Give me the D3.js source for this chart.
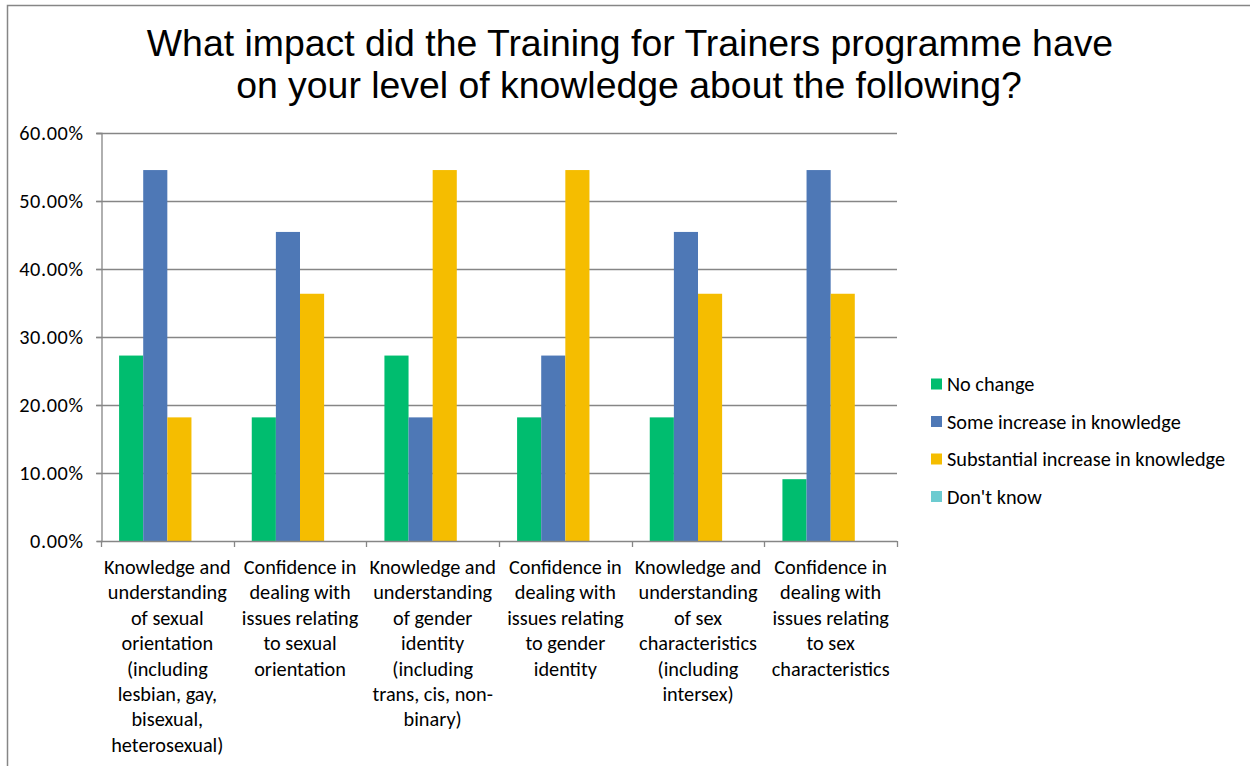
<!DOCTYPE html>
<html>
<head>
<meta charset="utf-8">
<script src="https://cdn.jsdelivr.net/npm/d3@7"></script>
<style>
    body { margin: 0; background: #fff; }
    svg { display: block; }
</style>
</head>
<body>
<svg width="1250" height="766"></svg>
<script>
const categories = [
    ['Knowledge and', 'understanding', 'of sexual', 'orientation', '(including', 'lesbian, gay,', 'bisexual,', 'heterosexual)'],
    ['Confidence in', 'dealing with', 'issues relating', 'to sexual', 'orientation'],
    ['Knowledge and', 'understanding', 'of gender', 'identity', '(including', 'trans, cis, non-', 'binary)'],
    ['Confidence in', 'dealing with', 'issues relating', 'to gender', 'identity'],
    ['Knowledge and', 'understanding', 'of sex', 'characteristics', '(including', 'intersex)'],
    ['Confidence in', 'dealing with', 'issues relating', 'to sex', 'characteristics']
]
const seriesNames = ['No change', 'Some increase in knowledge', 'Substantial increase in knowledge', "Don't know"]
const noChange = [27.27, 18.18, 27.27, 18.18, 18.18, 9.09]
const someIncrease = [54.55, 45.45, 18.18, 27.27, 45.45, 54.55]
const substantialIncrease = [18.18, 36.36, 54.55, 54.55, 36.36, 36.36]
const dontKnow = [0, 0, 0, 0, 0, 0]
const yTicks = [0, 10, 20, 30, 40, 50, 60]
const colors = ['#00bd6f', '#4e78b6', '#f5bd00', '#6ccbd0']

const allSeries = [noChange, someIncrease, substantialIncrease, dontKnow]

let svg = d3.select('svg')
let font = 'Carlito, Calibri, Lato, sans-serif'
let fontSize = 20.3

// chart frame
svg.append('rect')
    .attr('x', 7.5).attr('y', 5.5)
    .attr('width', 1260).attr('height', 780)
    .attr('fill', '#fff').attr('stroke', '#868686').attr('stroke-width', 1.5)

// title
let title = svg.append('text')
    .attr('text-anchor', 'middle')
    .attr('font-family', 'Liberation Sans, Arial, sans-serif')
    .attr('font-size', 37.4)
    .attr('fill', '#000')
title.append('tspan').attr('x', 630).attr('y', 56).text('What impact did the Training for Trainers programme have')
title.append('tspan').attr('x', 629).attr('y', 98).text('on your level of knowledge about the following?')

let x0 = d3.scaleBand()
    .domain(d3.range(categories.length))
    .range([101, 897])

let y = d3.scaleLinear()
    .domain([0, 60])
    .range([541, 133])

let barW = x0.bandwidth() / (4 + 1.5)
let x1 = d3.scaleBand()
    .domain(d3.range(allSeries.length))
    .range([barW * 0.75, barW * 4.75])

// gridlines
svg.append('g')
    .selectAll('line')
    .data(yTicks.slice(1))
    .enter().append('line')
    .attr('x1', 96).attr('x2', 897)
    .attr('y1', d => Math.round(y(d)) + 0.5)
    .attr('y2', d => Math.round(y(d)) + 0.5)
    .attr('stroke', '#868686').attr('stroke-width', 1.3)

// y axis
let yAxis = svg.append('g')
    .attr('transform', 'translate(101.5,0)')
    .call(d3.axisLeft(y).tickValues(yTicks).tickSize(5).tickPadding(13)
        .tickFormat(d => d.toFixed(2) + '%'))
yAxis.select('.domain').attr('stroke', '#868686').attr('stroke-width', 1.3)
yAxis.selectAll('.tick line').attr('stroke', '#868686').attr('stroke-width', 1.3)
yAxis.selectAll('.tick text')
    .attr('font-family', font).attr('font-size', fontSize).attr('fill', '#000')
    .attr('letter-spacing', 0.6)

// bars
let groups = svg.append('g')
    .selectAll('g')
    .data(categories)
    .enter().append('g')
    .attr('transform', (d, i) => 'translate(' + x0(i) + ',0)')

groups.selectAll('rect')
    .data((d, i) => allSeries.map((s, j) => ({ series: j, value: s[i] })))
    .enter().append('rect')
    .attr('x', d => x1(d.series))
    .attr('width', x1.bandwidth())
    .attr('y', d => y(d.value))
    .attr('height', d => y(0) - y(d.value))
    .attr('fill', d => colors[d.series])

// x axis
let xAxisLine = svg.append('g')
xAxisLine.append('line')
    .attr('x1', 101).attr('x2', 897)
    .attr('y1', 541.5).attr('y2', 541.5)
    .attr('stroke', '#868686').attr('stroke-width', 1.3)
xAxisLine.selectAll('.xt')
    .data(d3.range(categories.length + 1))
    .enter().append('line')
    .attr('class', 'xt')
    .attr('x1', i => Math.round(101 + i * x0.step()) + 0.5)
    .attr('x2', i => Math.round(101 + i * x0.step()) + 0.5)
    .attr('y1', 541).attr('y2', 547)
    .attr('stroke', '#868686').attr('stroke-width', 1.3)

let labels = svg.append('g')
    .selectAll('text')
    .data(categories)
    .enter().append('text')
    .attr('text-anchor', 'middle')
    .attr('font-family', font)
    .attr('font-size', fontSize)
    .attr('fill', '#000')

labels.each(function (lines, i) {
    let t = d3.select(this)
    lines.forEach((line, k) => {
        t.append('tspan')
            .attr('x', x0(i) + x0.bandwidth() / 2)
            .attr('y', 574 + k * 25.4)
            .text(line)
    })
})

// legend
let legend = svg.append('g')
    .selectAll('g')
    .data(seriesNames)
    .enter().append('g')
    .attr('transform', (d, i) => 'translate(931,' + (384 + i * 37.5) + ')')

legend.append('rect')
    .attr('x', 0).attr('y', -5.5)
    .attr('width', 11).attr('height', 11)
    .attr('fill', (d, i) => colors[i])

legend.append('text')
    .attr('x', 16).attr('y', 7)
    .attr('font-family', font)
    .attr('font-size', fontSize)
    .attr('fill', '#000')
    .text(d => d)
</script>
</body>
</html>
